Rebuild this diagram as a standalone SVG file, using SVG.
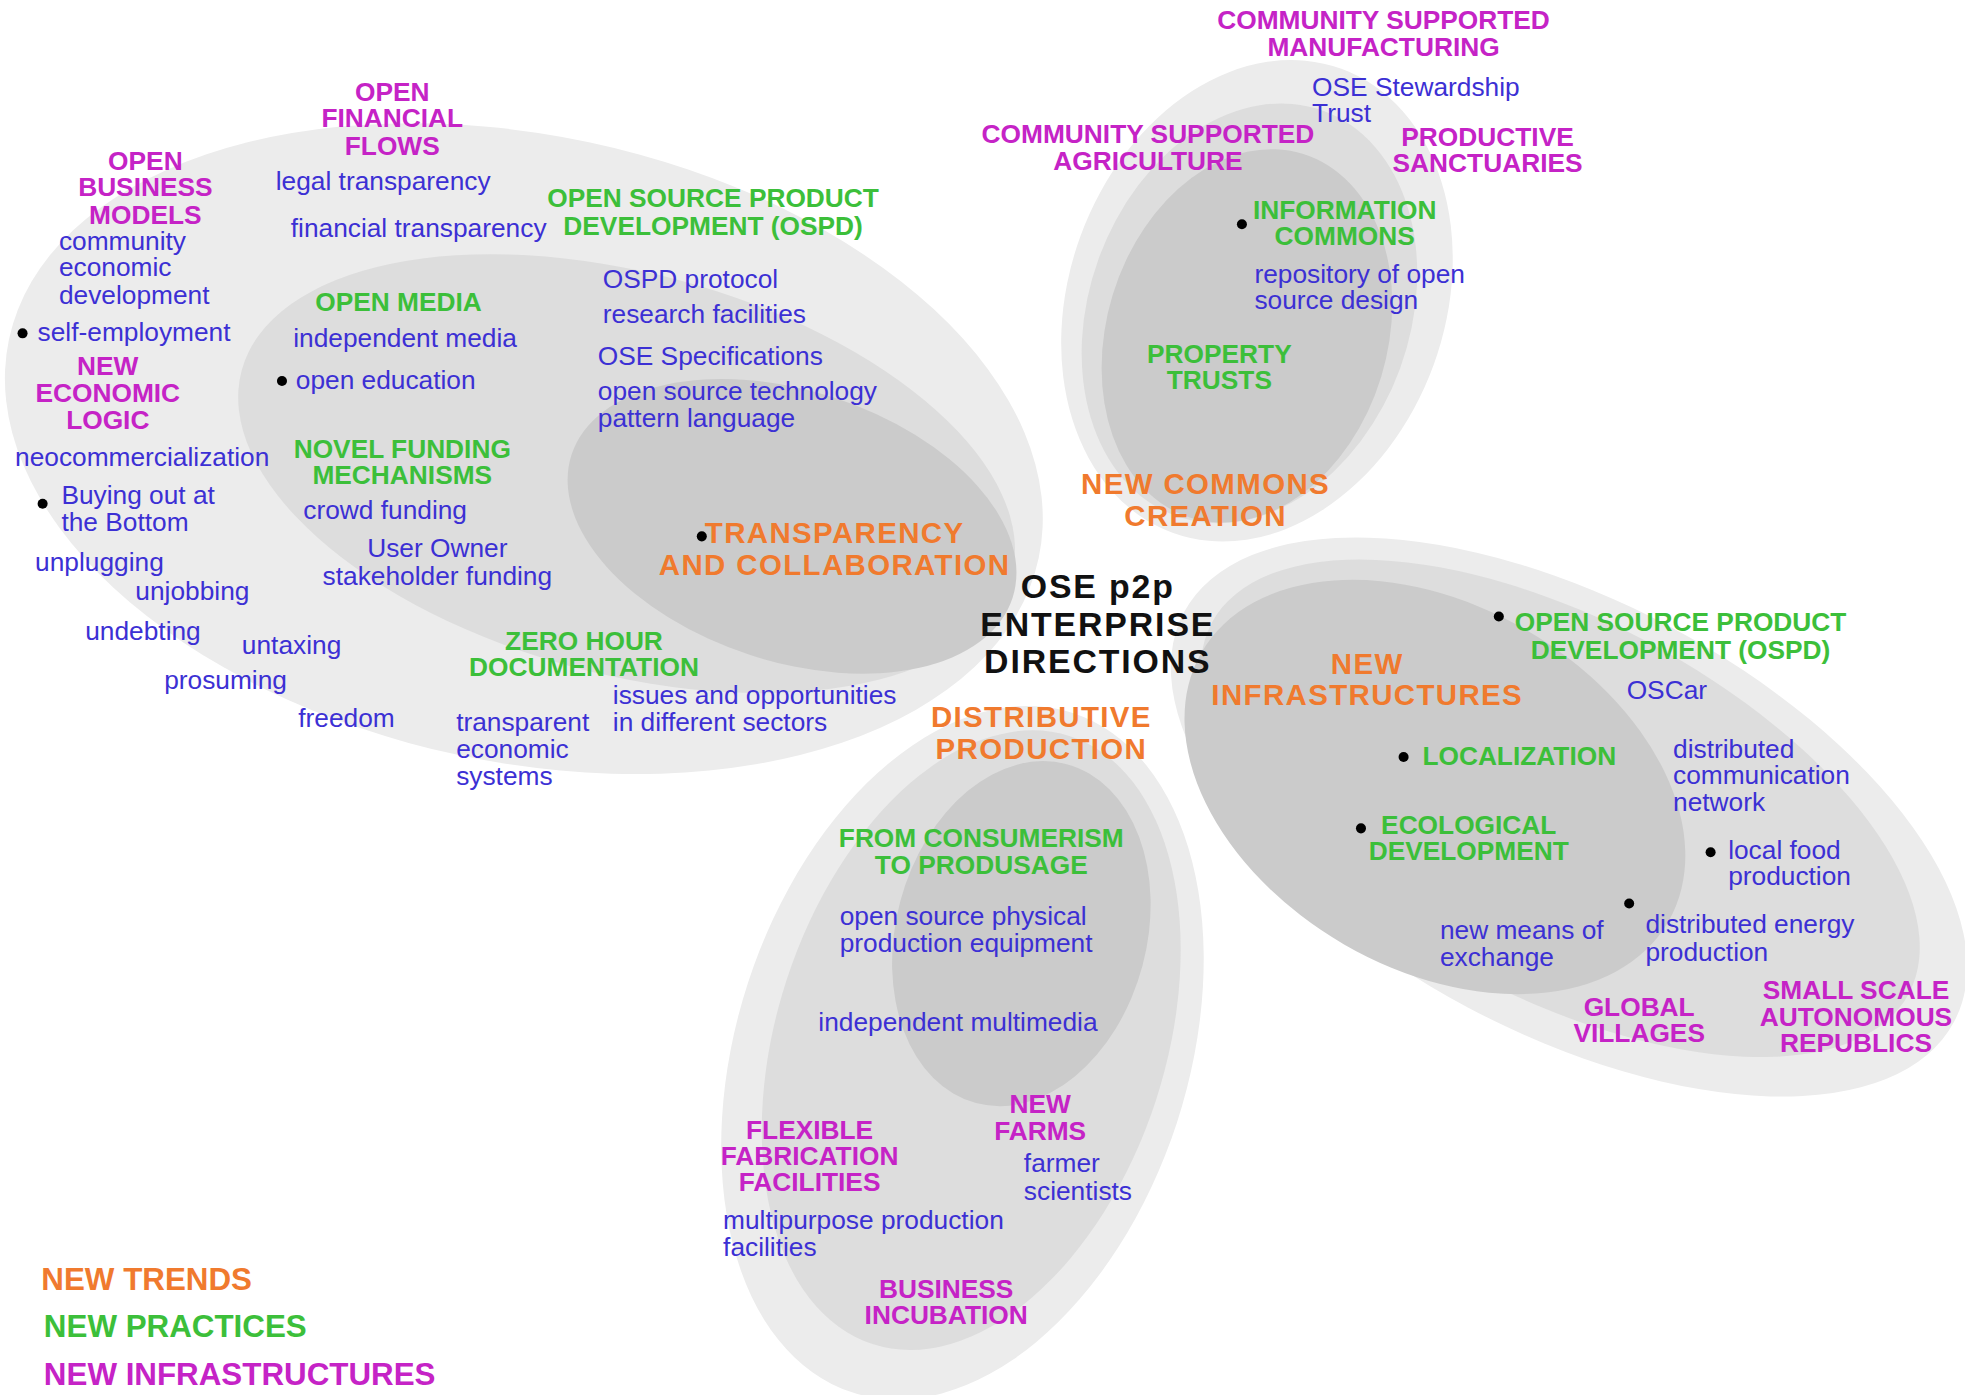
<svg xmlns="http://www.w3.org/2000/svg" width="1965" height="1395" viewBox="0 0 1965 1395">
<style>
text{font-family:"Liberation Sans",Arial,sans-serif}
.b{font-size:21px;fill:#3c30d4}
.m{font-size:21px;font-weight:bold;fill:#c523c6}
.g{font-size:21px;font-weight:bold;fill:#3cbf3a}
.o{font-size:23.5px;font-weight:bold;fill:#f07a2e;letter-spacing:1.1px}
.k{font-size:27px;font-weight:bold;fill:#111;letter-spacing:1.5px}
.l{font-size:25px;font-weight:bold}
.c{text-anchor:middle}
.e1{fill:#ececec}
.e2{fill:#dddddd}
.e3{fill:#cbcbcb}
.dot{fill:#000}
</style>
<rect width="1965" height="1395" fill="#fff"/>
<g transform="scale(1.2532)">
<g id="petals">
<g id="petal-left">
<ellipse class="e1" cx="418" cy="358" rx="420" ry="250" transform="rotate(12 418 358)"/>
<ellipse class="e2" cx="500" cy="378" rx="318" ry="160" transform="rotate(15 500 378)"/>
<ellipse class="e3" cx="632" cy="420" rx="185" ry="108" transform="rotate(18 632 420)"/>
</g>
<g id="petal-top">
<ellipse class="e1" cx="1003" cy="240" rx="150" ry="197" transform="rotate(20 1003 240)"/>
<ellipse class="e2" cx="997" cy="250" rx="128" ry="172" transform="rotate(20 997 250)"/>
<ellipse class="e3" cx="995" cy="268" rx="112" ry="152" transform="rotate(17 995 268)"/>
</g>
<g id="petal-right">
<ellipse class="e1" cx="1252" cy="652" rx="348" ry="172" transform="rotate(28 1252 652)"/>
<ellipse class="e2" cx="1245" cy="645" rx="315" ry="150" transform="rotate(28 1245 645)"/>
<ellipse class="e3" cx="1145" cy="628" rx="215" ry="145" transform="rotate(30 1145 628)"/>
</g>
<g id="petal-bottom">
<ellipse class="e1" cx="768" cy="840" rx="180" ry="285" transform="rotate(18 768 840)"/>
<ellipse class="e2" cx="775" cy="830" rx="155" ry="255" transform="rotate(18 775 830)"/>
<ellipse class="e3" cx="815" cy="745" rx="100" ry="140" transform="rotate(15 815 745)"/>
</g>
</g>

<g id="center">
<text class="k c" x="876" y="477.5">OSE p2p</text>
<text class="k c" x="876" y="507.5">ENTERPRISE</text>
<text class="k c" x="876" y="537">DIRECTIONS</text>
</g>

<g id="transparency">
<text class="m c" x="313" y="80.5">OPEN</text>
<text class="m c" x="313" y="101.5">FINANCIAL</text>
<text class="m c" x="313" y="123.5">FLOWS</text>
<text class="m c" x="116" y="135.5">OPEN</text>
<text class="m c" x="116" y="156.5">BUSINESS</text>
<text class="m c" x="116" y="178.5">MODELS</text>
<text class="b" x="47" y="199.5">community</text>
<text class="b" x="47" y="220.5">economic</text>
<text class="b" x="47" y="242.5">development</text>
<circle class="dot" cx="18" cy="266" r="4"/>
<text class="b" x="30" y="272.5">self-employment</text>
<text class="m c" x="86" y="299.5">NEW</text>
<text class="m c" x="86" y="320.5">ECONOMIC</text>
<text class="m c" x="86" y="342.5">LOGIC</text>
<text class="b" x="12" y="371.5">neocommercialization</text>
<circle class="dot" cx="34" cy="402" r="4"/>
<text class="b" x="49" y="402.5">Buying out at</text>
<text class="b" x="49" y="423.5">the Bottom</text>
<text class="b" x="28" y="455.5">unplugging</text>
<text class="b" x="108" y="478.5">unjobbing</text>
<text class="b" x="68" y="510.5">undebting</text>
<text class="b" x="193" y="521.5">untaxing</text>
<text class="b" x="131" y="549.5">prosuming</text>
<text class="b" x="238" y="580.5">freedom</text>
<text class="b" x="220" y="151.5">legal transparency</text>
<text class="b" x="232" y="189.5">financial transparency</text>
<text class="g c" x="569" y="165.5">OPEN SOURCE PRODUCT</text>
<text class="g c" x="569" y="187.5">DEVELOPMENT (OSPD)</text>
<text class="g c" x="318" y="248.5">OPEN MEDIA</text>
<text class="b" x="234" y="276.5">independent media</text>
<circle class="dot" cx="225" cy="304" r="4"/>
<text class="b" x="236" y="310.5">open education</text>
<text class="g c" x="321" y="365.5">NOVEL FUNDING</text>
<text class="g c" x="321" y="386.5">MECHANISMS</text>
<text class="b" x="242" y="414.5">crowd funding</text>
<text class="b c" x="349" y="444.5">User Owner</text>
<text class="b c" x="349" y="466.5">stakeholder funding</text>
<text class="b" x="481" y="229.5">OSPD protocol</text>
<text class="b" x="481" y="257.5">research facilities</text>
<text class="b" x="477" y="291.5">OSE Specifications</text>
<text class="b" x="477" y="319.5">open source technology</text>
<text class="b" x="477" y="340.5">pattern language</text>
<circle class="dot" cx="560" cy="428" r="4"/>
<text class="o c" x="666" y="433.5">TRANSPARENCY</text>
<text class="o c" x="666" y="458.5">AND COLLABORATION</text>
<text class="g c" x="466" y="518.5">ZERO HOUR</text>
<text class="g c" x="466" y="539.5">DOCUMENTATION</text>
<text class="b" x="489" y="561.5">issues and opportunities</text>
<text class="b" x="489" y="583.5">in different sectors</text>
<text class="b" x="364" y="583.5">transparent</text>
<text class="b" x="364" y="604.5">economic</text>
<text class="b" x="364" y="626.5">systems</text>
</g>

<g id="commons">
<text class="m c" x="1104" y="23.5">COMMUNITY SUPPORTED</text>
<text class="m c" x="1104" y="44.5">MANUFACTURING</text>
<text class="b" x="1047" y="76.5">OSE Stewardship</text>
<text class="b" x="1047" y="97.5">Trust</text>
<text class="m c" x="916" y="114.5">COMMUNITY SUPPORTED</text>
<text class="m c" x="916" y="135.5">AGRICULTURE</text>
<text class="m c" x="1187" y="116.5">PRODUCTIVE</text>
<text class="m c" x="1187" y="137.5">SANCTUARIES</text>
<circle class="dot" cx="991" cy="179" r="4"/>
<text class="g c" x="1073" y="174.5">INFORMATION</text>
<text class="g c" x="1073" y="195.5">COMMONS</text>
<text class="b" x="1001" y="225.5">repository of open</text>
<text class="b" x="1001" y="246.5">source design</text>
<text class="g c" x="973" y="289.5">PROPERTY</text>
<text class="g c" x="973" y="310.5">TRUSTS</text>
<text class="o c" x="962" y="394.5">NEW COMMONS</text>
<text class="o c" x="962" y="419.5">CREATION</text>
</g>

<g id="infrastructures">
<circle class="dot" cx="1196" cy="492" r="4"/>
<text class="g c" x="1341" y="503.5">OPEN SOURCE PRODUCT</text>
<text class="g c" x="1341" y="525.5">DEVELOPMENT (OSPD)</text>
<text class="o c" x="1091" y="537.5">NEW</text>
<text class="o c" x="1091" y="562.5">INFRASTRUCTURES</text>
<text class="b" x="1298" y="557.5">OSCar</text>
<circle class="dot" cx="1120" cy="604" r="4"/>
<text class="g" x="1135" y="610.5">LOCALIZATION</text>
<text class="b" x="1335" y="604.5">distributed</text>
<text class="b" x="1335" y="625.5">communication</text>
<text class="b" x="1335" y="647.5">network</text>
<circle class="dot" cx="1086" cy="661" r="4"/>
<text class="g c" x="1172" y="665.5">ECOLOGICAL</text>
<text class="g c" x="1172" y="686.5">DEVELOPMENT</text>
<circle class="dot" cx="1365" cy="680" r="4"/>
<text class="b" x="1379" y="685.5">local food</text>
<text class="b" x="1379" y="706.5">production</text>
<circle class="dot" cx="1300" cy="721" r="4"/>
<text class="b" x="1313" y="744.5">distributed energy</text>
<text class="b" x="1313" y="766.5">production</text>
<text class="b" x="1149" y="749.5">new means of</text>
<text class="b" x="1149" y="770.5">exchange</text>
<text class="m c" x="1308" y="810.5">GLOBAL</text>
<text class="m c" x="1308" y="831.5">VILLAGES</text>
<text class="m c" x="1481" y="797.5">SMALL SCALE</text>
<text class="m c" x="1481" y="818.5">AUTONOMOUS</text>
<text class="m c" x="1481" y="839.5">REPUBLICS</text>
</g>

<g id="production">
<text class="o c" x="831" y="580.5">DISTRIBUTIVE</text>
<text class="o c" x="831" y="605.5">PRODUCTION</text>
<text class="g c" x="783" y="675.5">FROM CONSUMERISM</text>
<text class="g c" x="783" y="697.5">TO PRODUSAGE</text>
<text class="b" x="670" y="738.5">open source physical</text>
<text class="b" x="670" y="759.5">production equipment</text>
<text class="b" x="653" y="822.5">independent multimedia</text>
<text class="m c" x="646" y="908.5">FLEXIBLE</text>
<text class="m c" x="646" y="929.5">FABRICATION</text>
<text class="m c" x="646" y="950.5">FACILITIES</text>
<text class="m c" x="830" y="888.5">NEW</text>
<text class="m c" x="830" y="909.5">FARMS</text>
<text class="b" x="817" y="935.5">farmer</text>
<text class="b" x="817" y="957.5">scientists</text>
<text class="b" x="577" y="980.5">multipurpose production</text>
<text class="b" x="577" y="1002.5">facilities</text>
<text class="m c" x="755" y="1035.5">BUSINESS</text>
<text class="m c" x="755" y="1056.5">INCUBATION</text>
</g>

<g id="legend">
<text class="l" x="33" y="1029" fill="#f07a2e">NEW TRENDS</text>
<text class="l" x="35" y="1067" fill="#3cbf3a">NEW PRACTICES</text>
<text class="l" x="35" y="1105" fill="#c523c6">NEW INFRASTRUCTURES</text>
</g>
</g>
</svg>
